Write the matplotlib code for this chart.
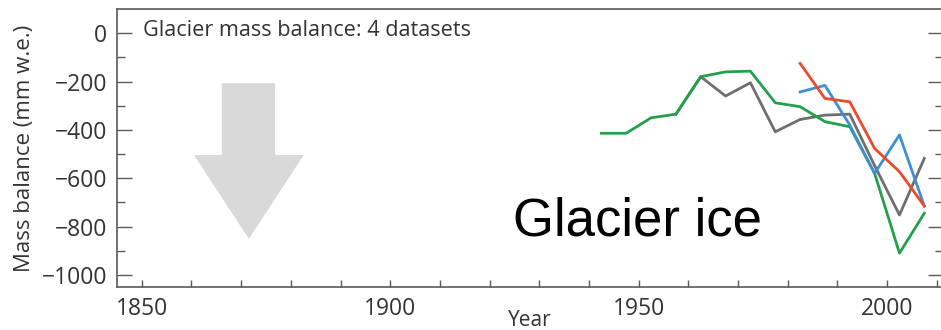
import numpy as np
import matplotlib; matplotlib.use("Agg")
import matplotlib.pyplot as plt
from matplotlib.patches import Polygon

# ---- data (pentad means) ----
yr_green = [1942.5, 1947.5, 1952.5, 1957.5, 1962.5, 1967.5, 1972.5,
            1977.5, 1982.5, 1987.5, 1992.5, 1997.5, 2002.5, 2007.5]
mb_green = [-414, -414, -350, -335, -180, -160, -157,
            -288, -304, -366, -387, -580, -910, -745]
yr_gray = [1957.5, 1962.5, 1967.5, 1972.5, 1977.5, 1982.5, 1987.5,
           1992.5, 1997.5, 2002.5, 2007.5]
mb_gray = [-335, -180, -260, -205, -408, -357, -339, -335, -548, -752, -518]
yr_blue = [1982.5, 1987.5, 1992.5, 1997.5, 2002.5, 2007.5]
mb_blue = [-243, -216, -380, -580, -421, -715]
yr_red = [1982.5, 1987.5, 1992.5, 1997.5, 2002.5, 2007.5]
mb_red = [-125, -270, -284, -477, -573, -715]

C_GREEN, C_GRAY, C_BLUE, C_RED = "#22a04b", "#6e6e6e", "#3f8fd2", "#eb4a2c"
AX_COL, TXT_COL = "#5a5a5a", "#333333"
FONT = ["Open Sans", "DejaVu Sans"]

# big grey "decline" arrow (data units)
ARR_X0, ARR_X1 = 1866.1, 1876.8      # shaft
ARR_H0, ARR_H1 = 1860.5, 1882.6      # head base
ARR_TOP, ARR_BASE, ARR_TIP = -207, -504, -851

fig = plt.figure(figsize=(9.41, 3.30), dpi=100)
ax = fig.add_axes([0.1243, 0.1303, 0.8775, 0.8424])

arrow = Polygon([(ARR_X0, ARR_TOP), (ARR_X1, ARR_TOP), (ARR_X1, ARR_BASE),
                 (ARR_H1, ARR_BASE), ((ARR_H0 + ARR_H1) / 2, ARR_TIP),
                 (ARR_H0, ARR_BASE), (ARR_X0, ARR_BASE)],
                closed=True, facecolor="#d9d9d9", edgecolor="none", zorder=1)
ax.add_patch(arrow)

lw = 2.0
ax.plot(yr_gray, mb_gray, color=C_GRAY, lw=lw, zorder=2)
ax.plot(yr_green, mb_green, color=C_GREEN, lw=lw, zorder=3)
ax.plot(yr_blue, mb_blue, color=C_BLUE, lw=lw, zorder=4)
ax.plot(yr_red, mb_red, color=C_RED, lw=lw, zorder=5)

ax.set_xlim(1845, 2011.2)
ax.set_ylim(-1050, 100)

xt = np.arange(1850, 2011, 10)
ax.set_xticks(xt)
ax.set_xticklabels([str(v) if v % 50 == 0 else "" for v in xt])
ax.set_yticks(np.arange(-1000, 1, 200))
ax.set_yticklabels([f"\u2212{-v}" if v < 0 else "0" for v in range(-1000, 1, 200)])
ax.set_yticks(np.arange(-1000, 1, 100), minor=True)

ax.tick_params(axis="x", direction="in", length=5, width=1, color=AX_COL,
               labelcolor=TXT_COL, labelsize=16.5, pad=7)
ax.tick_params(axis="y", which="major", direction="in", length=11, width=1,
               color=AX_COL, labelcolor=TXT_COL, labelsize=16.5, pad=7,
               right=True)
ax.tick_params(axis="y", which="minor", direction="in", length=6, width=1,
               color=AX_COL, right=True)
for lab in ax.get_xticklabels() + ax.get_yticklabels():
    lab.set_family(FONT)
for s in ax.spines.values():
    s.set_color(AX_COL); s.set_linewidth(1.2)

ax.set_xlabel("Year", family=FONT, fontsize=15, color=TXT_COL, va="center")
ax.xaxis.set_label_coords(0.5, -0.12)
ax.set_ylabel("Mass balance (mm w.e.)", family=FONT, fontsize=16,
              color=TXT_COL, va="center")
ax.yaxis.set_label_coords(-0.112, 0.5)

ax.text(1850.2, 10, "Glacier mass balance: 4 datasets", family=FONT,
        fontsize=15.6, color=TXT_COL, va="center", ha="left")
ax.text(1924.8, -780, "Glacier ice", family=["Liberation Sans", "DejaVu Sans"],
        fontsize=38, color="black", va="center", ha="left")

fig.savefig("out.png", dpi=100)
